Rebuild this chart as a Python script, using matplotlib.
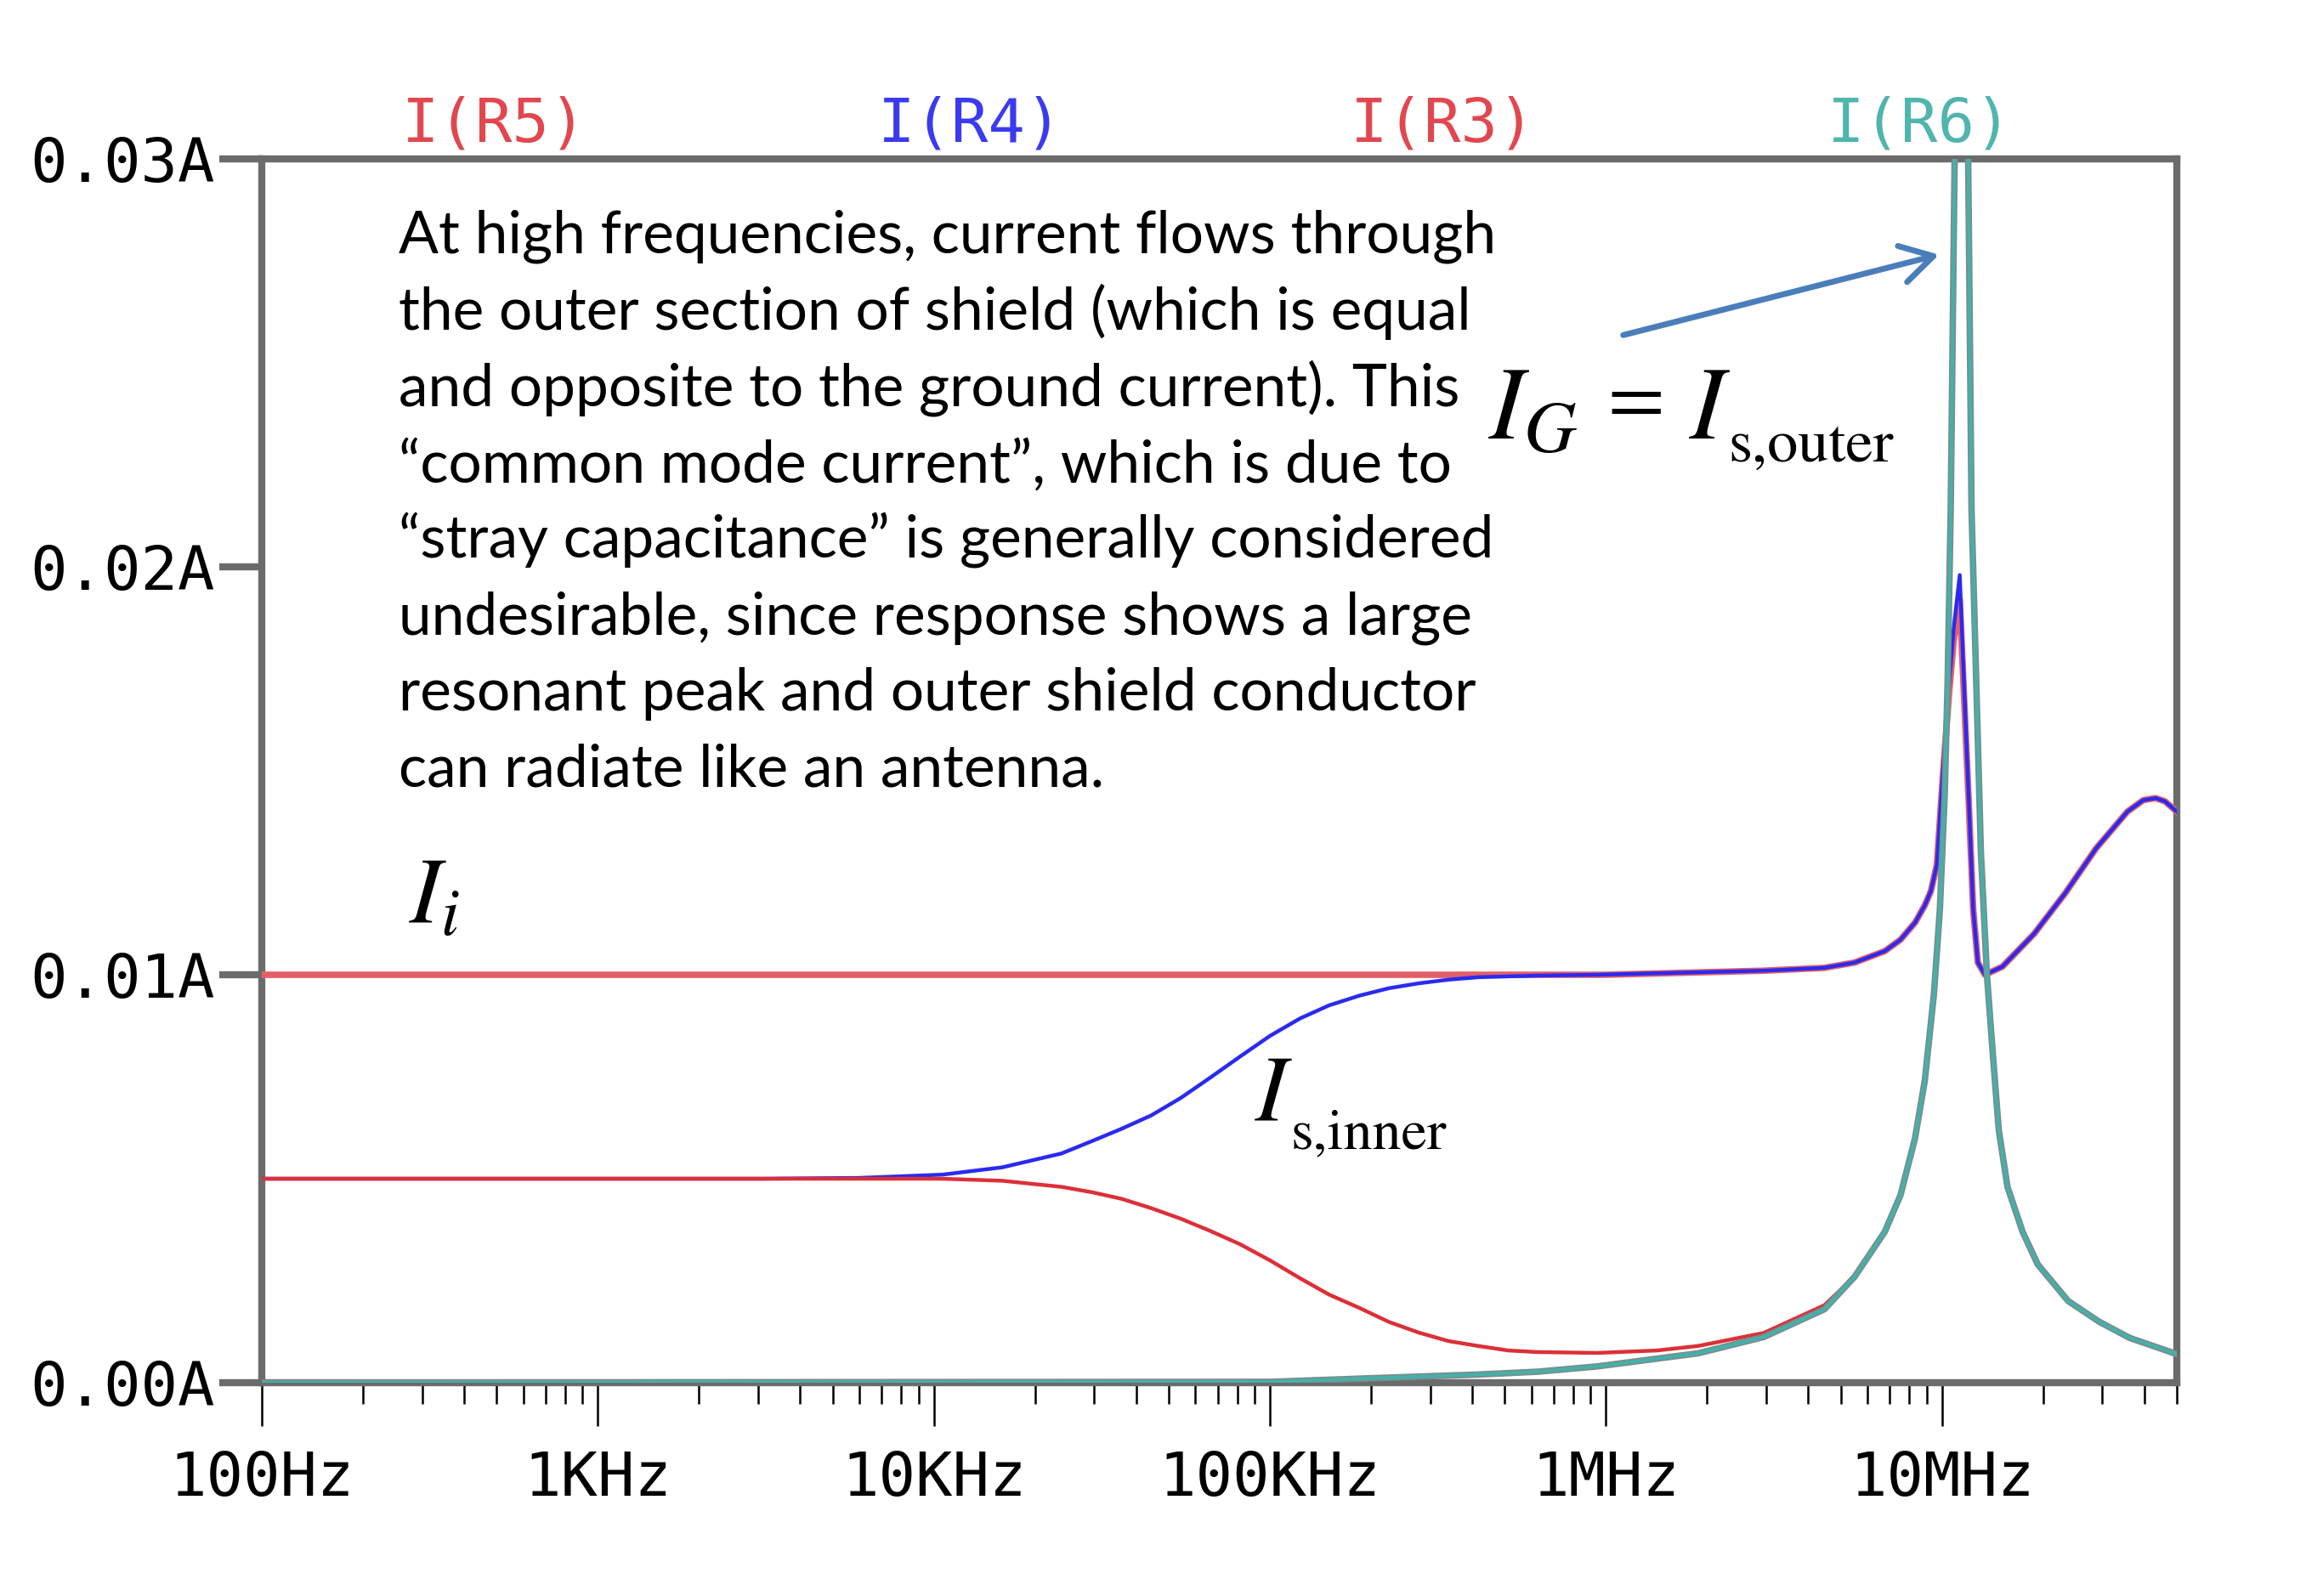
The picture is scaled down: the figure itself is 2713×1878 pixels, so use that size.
import numpy as np
import matplotlib
matplotlib.use("Agg")
import matplotlib.pyplot as plt
import matplotlib.patheffects as pe
from matplotlib.ticker import FixedLocator, LogLocator, NullFormatter

plt.rcParams['font.family'] = 'DejaVu Sans Mono'
plt.rcParams['mathtext.fontset'] = 'stix'

# axis ticks
tick_freqs = [1e2, 1e3, 1e4, 1e5, 1e6, 1e7]
tick_labels = ["100Hz", "1KHz", "10KHz", "100KHz", "1MHz", "10MHz"]
y_ticks = [0.0, 0.01, 0.02, 0.03]
y_labels = ["0.00A", "0.01A", "0.02A", "0.03A"]

# I(R5) - input current I_i
f_r5 = [1e2, 1e5, 1e6, 2.95e6, 4.47e6, 5.5e6, 6.76e6, 7.53e6, 8.32e6, 8.89e6,
        9.27e6, 9.66e6, 1.007e7, 1.05e7, 1.084e7, 1.13e7, 1.164e7, 1.202e7,
        1.239e7, 1.279e7, 1.343e7, 1.514e7, 1.879e7, 2.328e7, 2.877e7,
        3.565e7, 3.972e7, 4.325e7, 4.613e7, 5e7]
i_r5 = [0.0100, 0.0100, 0.0100, 0.0101, 0.01017, 0.0103, 0.01058, 0.01086,
        0.01128, 0.0117, 0.01205, 0.0127, 0.0149, 0.0169, 0.0182, 0.0192,
        0.0168, 0.0142, 0.0116, 0.0103, 0.0100, 0.0102, 0.0110, 0.0120,
        0.0131, 0.0140, 0.01428, 0.01433, 0.01425, 0.0140]

# I(R4) - inner shield current I_s,inner
f_r4 = [1e2, 3.1e3, 6.0e3, 1.06e4, 1.6e4, 2.4e4, 2.95e4, 3.61e4, 4.43e4,
        5.43e4, 6.65e4, 8.17e4, 1e5, 1.23e5, 1.5e5, 1.85e5, 2.26e5, 2.77e5,
        3.4e5, 4.17e5, 6.28e5, 9.44e5, 2.95e6, 4.47e6, 5.5e6, 6.76e6, 7.53e6,
        8.32e6, 8.89e6, 9.27e6, 9.66e6, 1.007e7, 1.05e7, 1.084e7, 1.13e7,
        1.164e7, 1.202e7, 1.239e7, 1.279e7, 1.343e7, 1.514e7, 1.879e7,
        2.328e7, 2.877e7, 3.565e7, 3.972e7, 4.325e7, 4.613e7, 5e7]
i_r4 = [0.0050, 0.0050, 0.00502, 0.0051, 0.00528, 0.00562, 0.00592, 0.00622,
        0.00655, 0.00698, 0.00748, 0.0080, 0.0085, 0.00893, 0.00925, 0.00949,
        0.00967, 0.00979, 0.00988, 0.00994, 0.00998, 0.0100, 0.0101, 0.01017,
        0.0103, 0.01058, 0.01086, 0.01128, 0.0117, 0.01205, 0.0127, 0.0150,
        0.0171, 0.0185, 0.0198, 0.0171, 0.0143, 0.0116, 0.0103, 0.0100,
        0.0102, 0.0110, 0.0120, 0.0131, 0.0140, 0.01428, 0.01433, 0.01425,
        0.0140]

# I(R3) - shield current returning through R3
f_r3 = [1e2, 3.1e3, 1.06e4, 1.6e4, 2.4e4, 2.95e4, 3.61e4, 4.43e4, 5.43e4,
        6.65e4, 8.17e4, 1e5, 1.23e5, 1.5e5, 1.85e5, 2.26e5, 2.77e5, 3.4e5,
        4.17e5, 5.12e5, 6.28e5, 9.44e5, 1.42e6, 1.88e6, 2.95e6, 4.47e6,
        5.5e6, 6.76e6, 7.53e6, 8.32e6, 8.89e6, 9.46e6, 9.86e6, 1.019e7,
        1.04e7, 1.062e7, 1.091e7, 1.14e7, 1.197e7, 1.225e7, 1.265e7,
        1.306e7, 1.361e7, 1.413e7, 1.476e7, 1.567e7, 1.738e7, 1.928e7,
        2.377e7, 2.931e7, 3.614e7, 5e7]
i_r3 = [0.0050, 0.0050, 0.0050, 0.00495, 0.0048, 0.00467, 0.00451, 0.00428,
        0.00402, 0.00372, 0.00339, 0.0030, 0.00256, 0.00216, 0.00183,
        0.00149, 0.00123, 0.00102, 0.0009, 0.00079, 0.00075, 0.00073,
        0.00079, 0.0009, 0.00122, 0.0019, 0.0026, 0.0037, 0.0046, 0.0060,
        0.0074, 0.0095, 0.0116, 0.0144, 0.0172, 0.0214, 0.0300, 0.0450,
        0.0300, 0.0214, 0.0172, 0.0130, 0.0100, 0.0082, 0.0062, 0.0048,
        0.0037, 0.0029, 0.0020, 0.0015, 0.0011, 0.0007]

# I(R6) - ground current I_G
f_r6 = [1e2, 1e5, 1.85e5, 2.77e5, 4.17e5, 6.28e5, 9.44e5, 1.42e6, 1.88e6,
        2.95e6, 4.47e6, 5.5e6, 6.76e6, 7.53e6, 8.32e6, 8.89e6, 9.46e6,
        9.86e6, 1.019e7, 1.04e7, 1.062e7, 1.091e7, 1.14e7, 1.197e7, 1.225e7,
        1.265e7, 1.306e7, 1.361e7, 1.413e7, 1.476e7, 1.567e7, 1.738e7,
        1.928e7, 2.377e7, 2.931e7, 3.614e7, 5e7]
i_r6 = [0.0, 0.00002, 0.0001, 0.00015, 0.0002, 0.00027, 0.0004, 0.00059,
        0.00072, 0.00112, 0.0018, 0.0026, 0.0037, 0.0046, 0.0060, 0.0074,
        0.0095, 0.0116, 0.0144, 0.0172, 0.0214, 0.0300, 0.0450, 0.0300,
        0.0214, 0.0172, 0.0130, 0.0100, 0.0082, 0.0062, 0.0048, 0.0037,
        0.0029, 0.0020, 0.0015, 0.0011, 0.0007]

trace_names = ["I(R5)", "I(R4)", "I(R3)", "I(R6)"]
trace_colors = ["#e2474f", "#3a3af0", "#e2474f", "#4fb5ad"]

paragraph = [
    "At high frequencies, current flows through",
    "the outer section of shield (which is equal",
    "and opposite to the ground current). This",
    "\u201ccommon mode current\u201d, which is due to",
    "\u201cstray capacitance\u201d is generally considered",
    "undesirable, since response shows a large",
    "resonant peak and outer shield conductor",
    "can radiate like an antenna.",
]

W, H = 2713, 1878
fig = plt.figure(figsize=(W / 100, H / 100), dpi=100)
ax = fig.add_axes([308 / W, 1 - 1627 / H, (2561 - 308) / W, (1627 - 187) / H])


def fx(x):
    return x / W


def fy(y):
    return 1 - y / H


ax.plot(f_r5, i_r5, color="#e35f67", lw=5.5, zorder=3, solid_joinstyle="round")
ax.plot(f_r4, i_r4, color="#2a2af2", lw=3.2, zorder=3.1, solid_joinstyle="round")
ax.plot(f_r3, i_r3, color="#dc3038", lw=3.2, zorder=3.2, solid_joinstyle="round")
ax.plot(f_r6, i_r6, color="#45b0aa", lw=3.0, zorder=3.3, solid_joinstyle="round",
        path_effects=[pe.Stroke(linewidth=5.5, foreground="#7c8c8b"), pe.Normal()])

ax.set_xscale("log")
ax.set_xlim(1e2, 5e7)
ax.set_ylim(0, 0.03)

ax.xaxis.set_major_locator(FixedLocator(tick_freqs))
ax.set_xticklabels(tick_labels)
ax.xaxis.set_minor_locator(LogLocator(base=10, subs=np.arange(2, 10), numticks=30))
ax.xaxis.set_minor_formatter(NullFormatter())
ax.set_yticks(y_ticks)
ax.set_yticklabels(y_labels)

for s in ax.spines.values():
    s.set_color("#6b6b6b")
    s.set_linewidth(6)

ax.tick_params(axis="x", which="major", direction="out", length=37, width=1.8,
               color="black", pad=20, labelsize=52)
ax.tick_params(axis="x", which="minor", direction="out", length=18, width=1.8,
               color="black")
ax.tick_params(axis="y", which="major", direction="out", length=36, width=6,
               color="#6b6b6b", pad=4, labelsize=52)

# trace names along the top
for name, col, xc in zip(trace_names, trace_colors, [582, 1142, 1698, 2259]):
    fig.text(fx(xc), fy(166), name, ha="center", va="baseline", fontsize=52,
             color=col)

# explanation text
for k, line in enumerate(paragraph):
    fig.text(fx(469), fy(298 + k * 89.7), line, ha="left", va="baseline",
             fontsize=50, family="Lato", color="black")

# I_G = I_s,outer
fig.text(fx(1751), fy(516), r"$I_G$", ha="left", va="baseline", fontsize=88)
fig.text(fx(1925), fy(476), "=", ha="center", va="center", fontsize=70,
         family="STIXGeneral")
fig.text(fx(1987), fy(516), r"$I$", ha="left", va="baseline", fontsize=88)
fig.text(fx(2033), fy(543), "s,outer", ha="left", va="baseline", fontsize=52,
         family="STIXGeneral")

# I_i
fig.text(fx(481), fy(1087), r"$I_i$", ha="left", va="baseline", fontsize=80)

# I_s,inner
fig.text(fx(1476), fy(1319), r"$I$", ha="left", va="baseline", fontsize=80)
fig.text(fx(1518), fy(1351), "s,inner", ha="left", va="baseline", fontsize=49,
         family="STIXGeneral")

ax.annotate("", xy=(2284, H - 299), xytext=(1907, H - 395),
            xycoords="figure pixels", textcoords="figure pixels",
            arrowprops=dict(arrowstyle="->,head_length=0.6,head_width=0.35",
                            color="#4a7ebb", lw=5, mutation_scale=45))

fig.savefig("out.png", dpi=100, facecolor="white")
